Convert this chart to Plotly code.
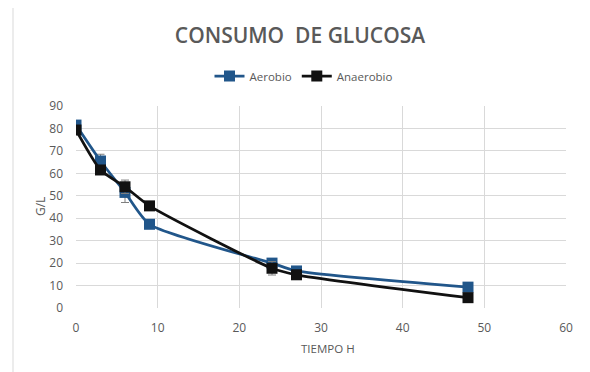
import plotly.graph_objects as go

tiempo = [0, 3, 6, 9, 24, 27, 48]
aerobio = [81.5, 65.5, 51.5, 37.3, 20.0, 16.5, 9.3]
aerobio_err = [1.0, 3.0, 4.5, 1.0, 2.0, 1.0, 2.0]
anaerobio = [79.3, 61.5, 54.0, 45.5, 17.7, 14.8, 4.6]
anaerobio_err = [1.0, 1.0, 3.0, 1.0, 3.0, 1.0, 1.0]

x_ticks = [0, 10, 20, 30, 40, 50, 60]
y_ticks = [0, 10, 20, 30, 40, 50, 60, 70, 80, 90]

blue = "#21568A"
black = "#111111"
grey_txt = "#595959"
grid = "#D9D9D9"
FONT = "Open Sans"

# page body has an 8px margin: compensate
W, H = 582, 364
L, R, T, B = 68, 24, 98, 64
pw = W - L - R
ph = H - T - B

def px(X):  # window pixel -> paper x
    return (X - 8 - L) / pw

def py(Y):  # window pixel -> paper y
    return (H - B + 8 - Y) / ph

fig = go.Figure()
fig.add_trace(go.Scatter(
    x=tiempo, y=aerobio, name="Aerobio", mode="lines+markers",
    line=dict(color=blue, width=2.75, shape="spline", smoothing=0.6),
    marker=dict(symbol="square", size=11, color=blue),
    error_y=dict(type="data", array=aerobio_err, color="#7F7F7F", thickness=1, width=4),
))
fig.add_trace(go.Scatter(
    x=tiempo, y=anaerobio, name="Anaerobio", mode="lines+markers",
    line=dict(color=black, width=2.75, shape="spline", smoothing=0.6),
    marker=dict(symbol="square", size=11, color=black),
    error_y=dict(type="data", array=anaerobio_err, color="#7F7F7F", thickness=1, width=4),
))

fig.update_layout(
    width=W, height=H,
    margin=dict(l=L, r=R, t=T, b=B, autoexpand=False),
    paper_bgcolor="white", plot_bgcolor="white",
    font=dict(family=FONT, color=grey_txt, size=12),
    title=dict(text="CONSUMO  DE GLUCOSA", xref="paper", x=px(300), xanchor="center",
               yref="container", y=1 - (36 - 8) / H, yanchor="middle",
               font=dict(family=FONT, size=21, color=grey_txt, weight=600)),
    showlegend=True,
    legend=dict(orientation="h", x=px(304), y=py(76), xanchor="center", yanchor="middle",
                font=dict(family=FONT, size=11.5, color=grey_txt), bgcolor="rgba(0,0,0,0)",
                itemwidth=30, tracegroupgap=0),
    xaxis=dict(range=[0, 60], tickvals=x_ticks, showgrid=True, gridcolor=grid,
               zeroline=False, showline=False, ticks="", ticklabelstandoff=11,
               tickfont=dict(family=FONT, size=12, color=grey_txt)),
    yaxis=dict(range=[0, 90], tickvals=y_ticks, showgrid=True, gridcolor=grid,
               zeroline=False, showline=False, ticks="", ticklabelstandoff=12,
               tickfont=dict(family=FONT, size=12, color=grey_txt)),
    annotations=[
        dict(text="TIEMPO H", xref="paper", yref="paper", x=px(328), y=py(348),
             xanchor="center", yanchor="middle", showarrow=False,
             font=dict(family=FONT, size=11.5, color=grey_txt)),
        dict(text="G/L", xref="paper", yref="paper", x=px(40), y=py(207),
             xanchor="center", yanchor="middle", showarrow=False, textangle=-90,
             font=dict(family=FONT, size=12, color=grey_txt)),
    ],
    shapes=[dict(type="rect", xref="paper", yref="paper",
                 x0=px(13), x1=px(586), y0=py(400), y1=py(6),
                 line=dict(color=grid, width=1), fillcolor="rgba(0,0,0,0)", layer="below")],
)

fig.write_html("out.html")
